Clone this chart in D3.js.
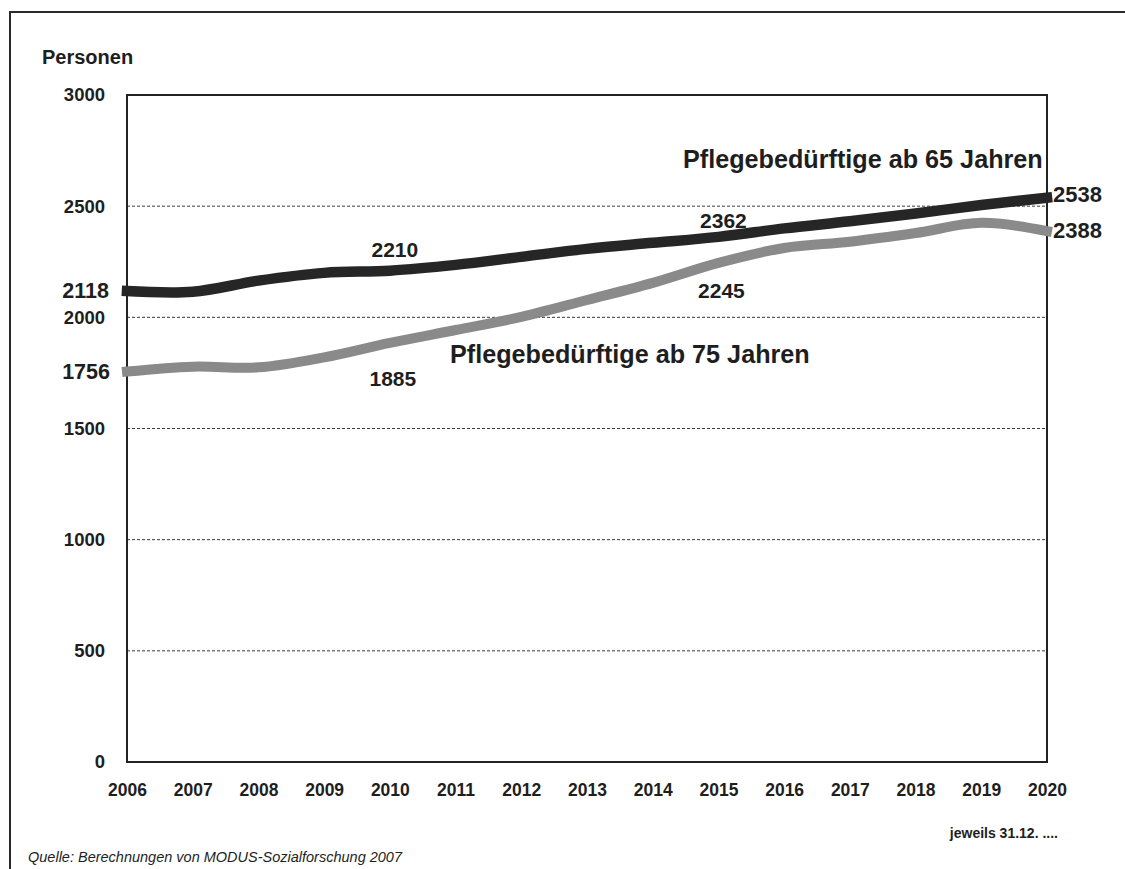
<!DOCTYPE html>
<html>
<head>
<meta charset="utf-8">
<script src="https://cdn.jsdelivr.net/npm/d3@7"></script>
<style>
  html, body { margin: 0; padding: 0; background: #ffffff; }
  svg { display: block; }
  text { font-family: "Liberation Sans", Arial, Helvetica, sans-serif; fill: #1e1e1e; }
</style>
</head>
<body>
<script>
// Pflegebedürftige Personen, jeweils 31.12., 2006–2020
const years = [2006, 2007, 2008, 2009, 2010, 2011, 2012, 2013, 2014, 2015, 2016, 2017, 2018, 2019, 2020];
const ab65 = [2118, 2115, 2165, 2200, 2210, 2236, 2272, 2308, 2335, 2362, 2400, 2432, 2467, 2505, 2538];
const ab75 = [1756, 1778, 1775, 1820, 1885, 1943, 2002, 2078, 2155, 2245, 2312, 2340, 2379, 2425, 2388];
const yTicks = [0, 500, 1000, 1500, 2000, 2500, 3000];
const seriesNames = ["Pflegebedürftige ab 65 Jahren", "Pflegebedürftige ab 75 Jahren"];
const labelYears = [2010, 2015];

const W = 1125, H = 869;
const svg = d3.select("body").append("svg").attr("width", W).attr("height", H);

// outer frame
svg.append("rect")
  .attr("x", 10).attr("y", 12).attr("width", W + 20).attr("height", H + 20)
  .attr("fill", "none").attr("stroke", "#2b2b2b").attr("stroke-width", 2);

const plot = { left: 127, right: 1047, top: 95, bottom: 762 };
const x = d3.scaleLinear().domain([2006, 2020]).range([plot.left, plot.right]);
const y = d3.scaleLinear().domain([0, 3000]).range([plot.bottom, plot.top]);

// dashed gridlines
svg.append("g")
  .selectAll("line")
  .data(yTicks.filter(t => t > 0 && t < 3000))
  .join("line")
  .attr("x1", plot.left).attr("x2", plot.right)
  .attr("y1", d => y(d)).attr("y2", d => y(d))
  .attr("stroke", "#3a3a3a").attr("stroke-width", 1)
  .attr("stroke-dasharray", "3,2");

// plot frame
svg.append("rect")
  .attr("x", plot.left).attr("y", plot.top)
  .attr("width", plot.right - plot.left).attr("height", plot.bottom - plot.top)
  .attr("fill", "none").attr("stroke", "#222").attr("stroke-width", 2);

// y axis labels
const yAxis = d3.axisLeft(y).tickValues(yTicks).tickFormat(d3.format("d")).tickSize(0).tickPadding(22);
const gy = svg.append("g").attr("transform", `translate(${plot.left},0)`).call(yAxis);
gy.select(".domain").remove();
gy.selectAll("text")
  .style("font-family", "'Liberation Sans', Arial, sans-serif")
  .style("font-size", "18.5px").style("font-weight", "bold").attr("fill", "#1e1e1e");

// x axis labels
const xAxis = d3.axisBottom(x).tickValues(years).tickFormat(d3.format("d")).tickSize(0).tickPadding(22);
const gx = svg.append("g").attr("transform", `translate(0,${plot.bottom})`).call(xAxis);
gx.select(".domain").remove();
gx.selectAll("text")
  .style("font-family", "'Liberation Sans', Arial, sans-serif")
  .style("font-size", "17.5px").style("font-weight", "bold").attr("fill", "#1e1e1e");

// lines
const line = d3.line()
  .x((d, i) => x(years[i]))
  .y(d => y(d))
  .curve(d3.curveCatmullRom.alpha(0.5));

svg.append("path").datum(ab75)
  .attr("d", line).attr("fill", "none")
  .attr("stroke", "#8a8a8a").attr("stroke-width", 10).attr("stroke-linecap", "square");

svg.append("path").datum(ab65)
  .attr("d", line).attr("fill", "none")
  .attr("stroke", "#262626").attr("stroke-width", 10.5).attr("stroke-linecap", "square");

const boldText = (tx, ty, str, size, anchor) =>
  svg.append("text").attr("x", tx).attr("y", ty).text(str)
    .attr("font-size", size).attr("font-weight", "bold")
    .attr("text-anchor", anchor || "start");

// start / end values
const first = 0, last = years.length - 1;
boldText(plot.left - 18, y(ab65[first]) + 7, ab65[first], 21.5, "end");
boldText(plot.left - 17, y(ab75[first]) + 7, ab75[first], 21.5, "end");
boldText(plot.right + 6, y(ab65[last]) + 4, ab65[last], 22, "start");
boldText(plot.right + 6, y(ab75[last]) + 7, ab75[last], 22, "start");

// interim values
labelYears.forEach((yr, k) => {
  const i = years.indexOf(yr);
  boldText(x(yr) + 5, y(ab65[i]) - (k === 0 ? 14 : 9), ab65[i], 21, "middle");
  boldText(x(yr) + 3, y(ab75[i]) + (k === 0 ? 43 : 35), ab75[i], 21, "middle");
});

// series names
boldText(683, 168, seriesNames[0], 25.2, "start");
boldText(450, 363, seriesNames[1], 25.2, "start");

// unit, date note and source
boldText(42, 64, "Personen", 20, "start");
boldText(1058, 838, "jeweils 31.12. ....", 14, "end");
svg.append("text").attr("x", 28).attr("y", 862)
  .text("Quelle: Berechnungen von MODUS-Sozialforschung 2007")
  .attr("font-size", 14.5).attr("font-style", "italic");
</script>
</body>
</html>
